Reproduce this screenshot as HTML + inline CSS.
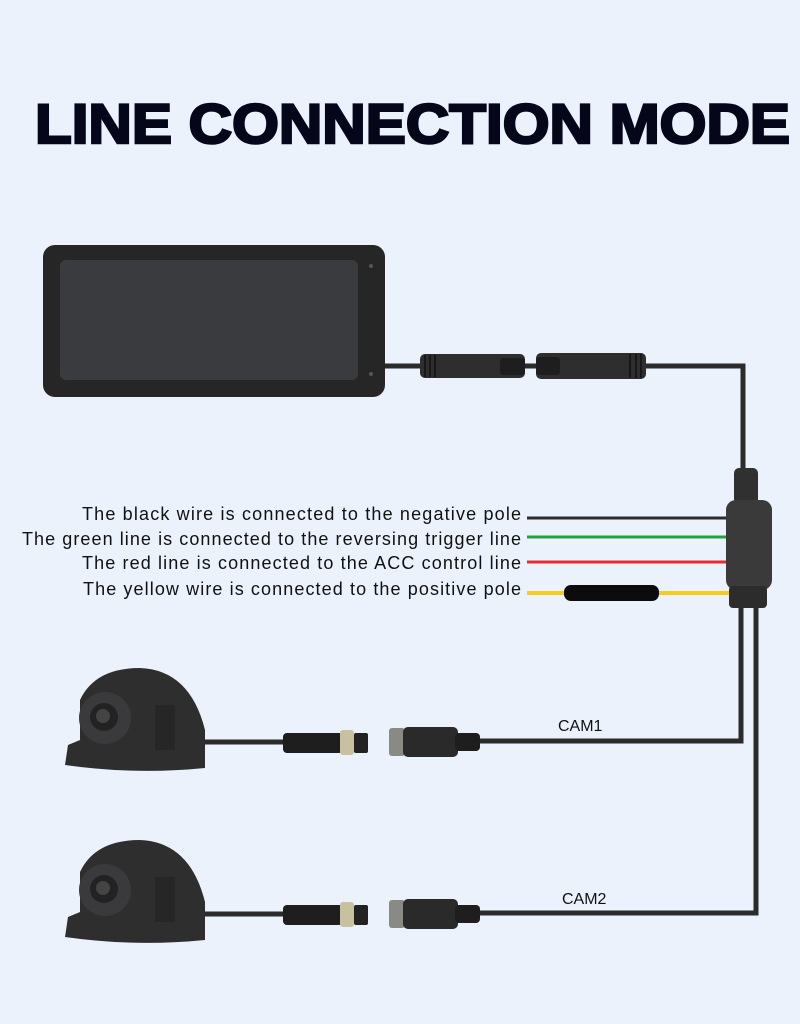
<!DOCTYPE html>
<html><head><meta charset="utf-8"><style>
html,body{margin:0;padding:0;background:#ebf2fc;}
svg{display:block}
text{font-family:"Liberation Sans",sans-serif}
</style></head><body>
<svg width="800" height="1024" viewBox="0 0 800 1024" xmlns="http://www.w3.org/2000/svg">
<rect width="800" height="1024" fill="#ebf2fc"/>
<text x="35" y="143" font-size="56" font-weight="900" fill="#05061a" textLength="755" lengthAdjust="spacingAndGlyphs" stroke="#05061a" stroke-width="2.5">LINE CONNECTION MODE</text>

<!-- monitor -->
<rect x="43" y="245" width="342" height="152" rx="12" fill="#262627"/>
<rect x="60" y="260" width="298" height="120" rx="6" fill="#3a3b3e"/>
<circle cx="371" cy="266" r="2" fill="#555"/>
<circle cx="371" cy="374" r="2" fill="#555"/>

<!-- main cable -->
<path d="M385 366 H743 V470" fill="none" stroke="#2b2b2b" stroke-width="5"/>
<rect x="420" y="354" width="105" height="24" rx="5" fill="#2e2e2e"/>
<rect x="500" y="358" width="25" height="17" rx="3" fill="#1e1e1e"/>
<rect x="536" y="353" width="110" height="26" rx="5" fill="#2e2e2e"/>
<rect x="536" y="357" width="24" height="18" rx="3" fill="#1e1e1e"/>
<g stroke="#111" stroke-width="1.5"><line x1="425" y1="355" x2="425" y2="377"/><line x1="430" y1="355" x2="430" y2="377"/><line x1="435" y1="355" x2="435" y2="377"/><line x1="630" y1="354" x2="630" y2="378"/><line x1="636" y1="354" x2="636" y2="378"/><line x1="641" y1="354" x2="641" y2="378"/></g>

<!-- colored wires -->
<line x1="527" y1="518" x2="728" y2="518" stroke="#2c2c2c" stroke-width="3"/>
<line x1="527" y1="537" x2="728" y2="537" stroke="#1fa33a" stroke-width="3"/>
<line x1="527" y1="562" x2="728" y2="562" stroke="#ee2b2b" stroke-width="3"/>
<line x1="527" y1="593" x2="735" y2="593" stroke="#f2cd1a" stroke-width="4"/>
<rect x="564" y="585" width="95" height="16" rx="7" fill="#0c0c0c"/>

<!-- junction -->
<rect x="734" y="468" width="24" height="36" rx="5" fill="#303030"/>
<rect x="726" y="500" width="46" height="90" rx="10" fill="#3a3a3a"/>
<rect x="729" y="586" width="38" height="22" rx="4" fill="#2c2c2c"/>
<path d="M741 605 V741 H480" fill="none" stroke="#2b2b2b" stroke-width="5"/>
<path d="M756 605 V913 H480" fill="none" stroke="#2b2b2b" stroke-width="5"/>

<g font-size="18" fill="#111" text-anchor="start" lengthAdjust="spacingAndGlyphs">
<text x="82" y="520" textLength="439">The black wire is connected to the negative pole</text>
<text x="22" y="545" textLength="499">The green line is connected to the reversing trigger line</text>
<text x="82" y="569" textLength="439">The red line is connected to the ACC control line</text>
<text x="83" y="595" textLength="438">The yellow wire is connected to the positive pole</text>
</g>
<text x="558" y="731" font-size="16" fill="#111">CAM1</text>
<text x="562" y="904" font-size="16" fill="#111">CAM2</text>

<!-- cameras -->
<g id="cam">
<path d="M65 765 L68 745 L80 740 L80 700 Q95 668 140 668 Q190 670 205 730 L205 768 Q135 775 65 765 Z" fill="#2e2e2f"/>
<circle cx="105" cy="718" r="26" fill="#3a3a3c"/>
<circle cx="104" cy="717" r="14" fill="#222"/>
<circle cx="103" cy="716" r="7" fill="#444"/>
<rect x="155" y="705" width="20" height="45" fill="#262626"/>
<line x1="205" y1="742" x2="290" y2="742" stroke="#2b2b2b" stroke-width="5"/>
<rect x="283" y="733" width="60" height="20" rx="4" fill="#1e1e1e"/>
<rect x="340" y="730" width="14" height="25" rx="3" fill="#c9c0a0"/>
<rect x="354" y="733" width="14" height="20" rx="2" fill="#222"/>
<rect x="389" y="728" width="16" height="28" rx="3" fill="#8a8a84"/>
<rect x="403" y="727" width="55" height="30" rx="5" fill="#2a2a2a"/>
<rect x="455" y="733" width="25" height="18" rx="4" fill="#1e1e1e"/>
</g>
<use href="#cam" transform="translate(0,172)"/>
</svg>
</body></html>
